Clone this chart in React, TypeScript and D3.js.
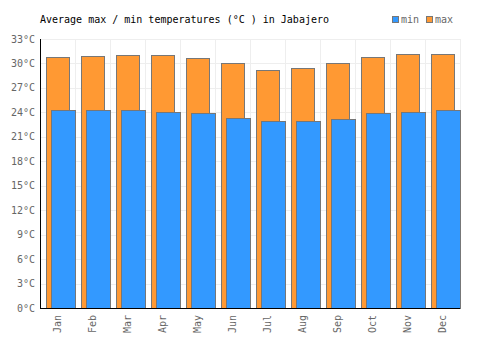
import React, { useEffect, useRef } from 'react';
import * as d3 from 'd3';

const months = ['Jan', 'Feb', 'Mar', 'Apr', 'May', 'Jun', 'Jul', 'Aug', 'Sep', 'Oct', 'Nov', 'Dec'];
const maxTemps = [30.8, 30.9, 31.0, 31.0, 30.7, 30.0, 29.2, 29.5, 30.0, 30.8, 31.2, 31.2];
const minTemps = [24.3, 24.3, 24.3, 24.0, 23.9, 23.3, 22.9, 22.9, 23.2, 23.9, 24.1, 24.3];
const yTicks = [0, 3, 6, 9, 12, 15, 18, 21, 24, 27, 30, 33];

const W = 500;
const H = 350;
const margin = { top: 39, right: 40, bottom: 42, left: 40 };
const font = '"DejaVu Sans Mono", monospace';

export default function App() {
  const ref = useRef<SVGSVGElement>(null);

  useEffect(() => {
    const { current: svg } = ref;
    if (!svg) {
      return;
    }
    const root = d3.select(svg);
    root.selectAll('*').remove();

    const x = d3
      .scaleBand<string>()
      .domain(months)
      .range([margin.left, W - margin.right])
      .padding(0);
    const y = d3
      .scaleLinear()
      .domain([0, 33])
      .range([H - margin.bottom, margin.top]);
    const bw = x.bandwidth();

    // grid
    const grid = root.append('g').attr('stroke', '#eeeeee').attr('stroke-width', 1);
    yTicks.forEach((t) => {
      grid
        .append('line')
        .attr('x1', margin.left)
        .attr('x2', W - margin.right)
        .attr('y1', Math.round(y(t)) + 0.5)
        .attr('y2', Math.round(y(t)) + 0.5);
    });
    months.concat(['end']).forEach((m, i) => {
      const xx = margin.left + i * bw;
      grid
        .append('line')
        .attr('x1', Math.round(xx) + 0.5)
        .attr('x2', Math.round(xx) + 0.5)
        .attr('y1', margin.top)
        .attr('y2', H - margin.bottom);
    });

    // max bars
    root
      .append('g')
      .selectAll('rect')
      .data(maxTemps)
      .join('rect')
      .attr('x', (_, i) => Math.round(x(months[i])! + bw * 0.17) + 0.5)
      .attr('y', (d) => Math.round(y(d)) + 0.5)
      .attr('width', Math.round(bw * 0.66))
      .attr('height', (d) => Math.round(y(0)) - Math.round(y(d)))
      .attr('fill', '#ff9933')
      .attr('stroke', '#777777')
      .attr('stroke-width', 1);

    // min bars
    root
      .append('g')
      .selectAll('rect')
      .data(minTemps)
      .join('rect')
      .attr('x', (_, i) => Math.round(x(months[i])! + bw * 0.31) + 0.5)
      .attr('y', (d) => Math.round(y(d)) + 0.5)
      .attr('width', Math.round(bw * 0.69))
      .attr('height', (d) => Math.round(y(0)) - Math.round(y(d)))
      .attr('fill', '#3399ff')
      .attr('stroke', '#777777')
      .attr('stroke-width', 1);

    // axes lines
    root
      .append('line')
      .attr('x1', margin.left + 0.5)
      .attr('x2', margin.left + 0.5)
      .attr('y1', margin.top)
      .attr('y2', H - margin.bottom + 1)
      .attr('stroke', '#000');
    root
      .append('line')
      .attr('x1', margin.left)
      .attr('x2', W - margin.right)
      .attr('y1', Math.round(y(0)) + 0.5)
      .attr('y2', Math.round(y(0)) + 0.5)
      .attr('stroke', '#000');

    // y labels
    root
      .append('g')
      .selectAll('text')
      .data(yTicks)
      .join('text')
      .attr('x', margin.left - 5)
      .attr('y', (d) => y(d))
      .attr('dy', '0.35em')
      .attr('text-anchor', 'end')
      .attr('font-family', font)
      .attr('font-size', 10)
      .attr('fill', '#666')
      .text((d) => `${d}°C`);

    // x labels
    root
      .append('g')
      .selectAll('text')
      .data(months)
      .join('text')
      .attr('transform', (d) => `translate(${x(d)! + bw / 2 + 3.5},${H - margin.bottom + 7}) rotate(-90)`)
      .attr('text-anchor', 'end')
      .attr('font-family', font)
      .attr('font-size', 10)
      .attr('fill', '#666')
      .text((d) => d);

    // title
    root
      .append('text')
      .attr('x', margin.left)
      .attr('y', 23)
      .attr('font-family', font)
      .attr('font-size', 10)
      .attr('fill', '#000')
      .text('Average max / min temperatures (°C ) in Jabajero');

    // legend
    const legend = [
      { label: 'min', color: '#3399ff', x: 392 },
      { label: 'max', color: '#ff9933', x: 426 },
    ];
    legend.forEach((l) => {
      root
        .append('rect')
        .attr('x', l.x + 0.5)
        .attr('y', 16.5)
        .attr('width', 6)
        .attr('height', 6)
        .attr('fill', l.color)
        .attr('stroke', '#777');
      root
        .append('text')
        .attr('x', l.x + 9)
        .attr('y', 23)
        .attr('font-family', font)
        .attr('font-size', 10)
        .attr('fill', '#666')
        .text(l.label);
    });
  }, []);

  return (
    <svg
      ref={ref}
      width={W}
      height={H}
      style={{ position: 'absolute', left: 0, top: 0, background: '#fff' }}
    />
  );
}
